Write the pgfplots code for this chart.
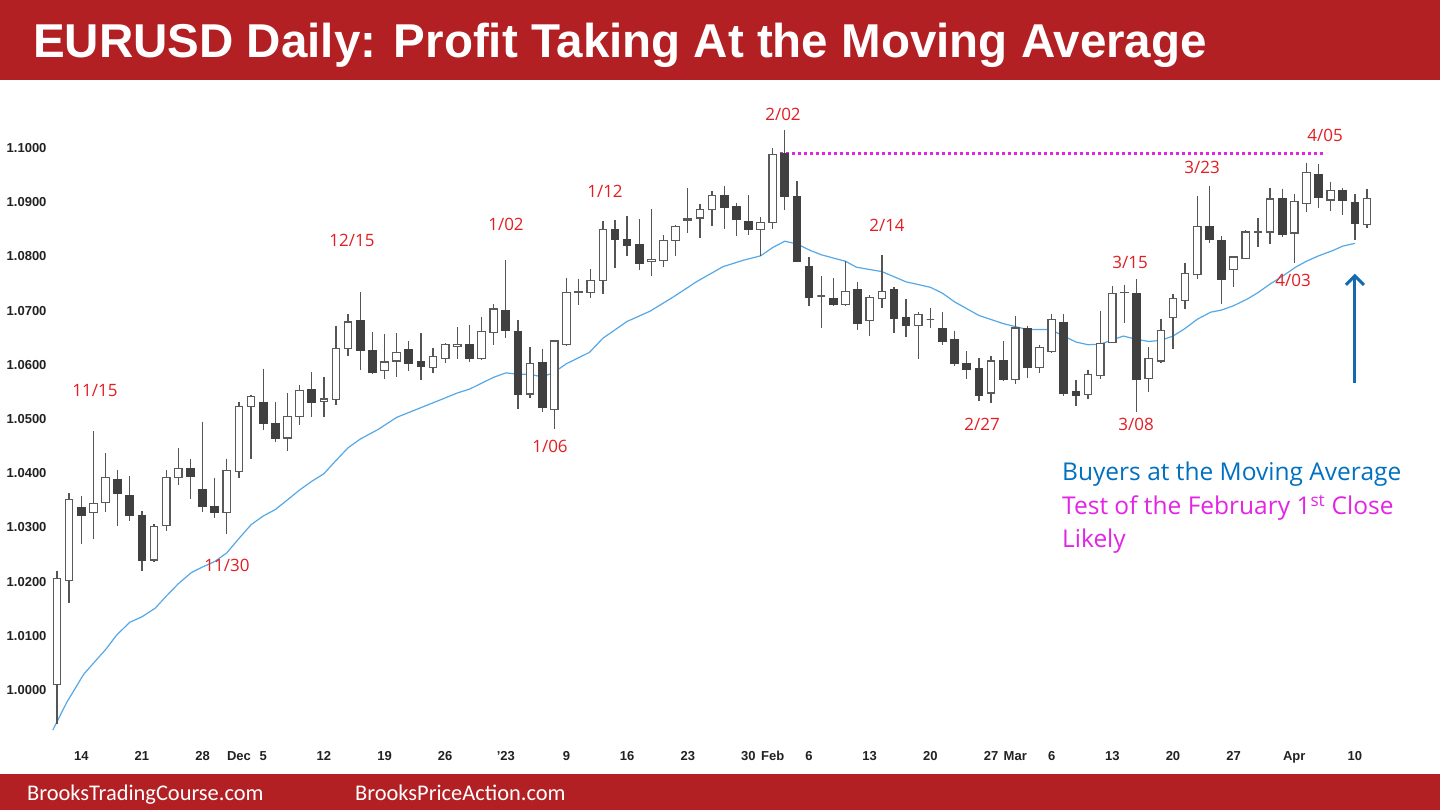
\documentclass[border=0pt]{standalone}
\usepackage{fontspec}
\usepackage{pgfplots}
\pgfplotsset{compat=1.18}
\usepackage{pgfplotstable}
\usetikzlibrary{arrows.meta}
\setmainfont{Liberation Sans}
\newfontfamily\osans{Open Sans}
\newfontfamily\carlito{Carlito}
\definecolor{bandred}{RGB}{178,32,36}
\definecolor{lblred}{RGB}{226,30,36}
\definecolor{wick}{RGB}{85,85,85}
\definecolor{bullline}{RGB}{90,90,90}
\definecolor{bearfill}{RGB}{64,64,64}
\definecolor{mablue}{RGB}{86,168,230}
\definecolor{txtblue}{RGB}{0,112,192}
\definecolor{arrowblue}{RGB}{20,105,175}
\definecolor{mag}{RGB}{228,36,228}
\definecolor{tickc}{RGB}{34,34,34}

\pgfdeclareplotmark{candle}{%
  \pgfkeys{/pgf/fpu=true,/pgf/fpu/output format=fixed}%
  \pgfmathsetmacro\cHH{(\vH-\vC)*5420}%
  \pgfmathsetmacro\cLL{(\vL-\vC)*5420}%
  \pgfmathsetmacro\cOO{(\vO-\vC)*5420}%
  \pgfkeys{/pgf/fpu=false}%
  \pgfsetlinewidth{1.3bp}%
  \pgfsetstrokecolor{wick}%
  \pgfpathmoveto{\pgfqpoint{0bp}{\cHH bp}}%
  \pgfpathlineto{\pgfqpoint{0bp}{\cLL bp}}%
  \pgfusepath{stroke}%
  \ifdim\cOO pt>0pt
    \pgfsetfillcolor{bearfill}\pgfsetstrokecolor{bearfill}%
  \else
    \pgfsetfillcolor{white}\pgfsetstrokecolor{bullline}%
  \fi
  \pgfsetlinewidth{1.2bp}%
  \pgfpathrectangle{\pgfqpoint{-3.75bp}{0bp}}{\pgfqpoint{7.5bp}{\cOO bp}}%
  \pgfusepath{fill,stroke}%
}

\pgfplotstableread{
i O H L C
0 1.0010 1.0220 0.9938 1.0205
1 1.0202 1.0363 1.0160 1.0352
2 1.0336 1.0357 1.0269 1.0322
3 1.0327 1.0478 1.0278 1.0344
4 1.0346 1.0437 1.0329 1.0392
5 1.0389 1.0406 1.0303 1.0362
6 1.0359 1.0394 1.0312 1.0322
7 1.0322 1.0330 1.0220 1.0239
8 1.0240 1.0306 1.0236 1.0301
9 1.0303 1.0405 1.0294 1.0392
10 1.0392 1.0446 1.0379 1.0409
11 1.0409 1.0427 1.0352 1.0395
12 1.0370 1.0495 1.0328 1.0338
13 1.0338 1.0392 1.0318 1.0327
14 1.0327 1.0427 1.0288 1.0405
15 1.0403 1.0531 1.0392 1.0523
16 1.0523 1.0544 1.0426 1.0541
17 1.0531 1.0593 1.0480 1.0491
18 1.0491 1.0531 1.0457 1.0465
19 1.0465 1.0548 1.0441 1.0504
20 1.0504 1.0563 1.0488 1.0553
21 1.0555 1.0586 1.0504 1.0531
22 1.0533 1.0578 1.0504 1.0537
23 1.0536 1.0672 1.0526 1.0630
24 1.0630 1.0694 1.0617 1.0679
25 1.0682 1.0734 1.0591 1.0626
26 1.0626 1.0660 1.0583 1.0586
27 1.0589 1.0656 1.0573 1.0605
28 1.0607 1.0658 1.0577 1.0622
29 1.0628 1.0643 1.0589 1.0602
30 1.0605 1.0658 1.0572 1.0597
31 1.0595 1.0631 1.0584 1.0615
32 1.0611 1.0640 1.0603 1.0637
33 1.0634 1.0669 1.0610 1.0637
34 1.0637 1.0673 1.0605 1.0611
35 1.0611 1.0689 1.0608 1.0661
36 1.0660 1.0713 1.0637 1.0703
37 1.0700 1.0793 1.0649 1.0664
38 1.0661 1.0682 1.0518 1.0546
39 1.0546 1.0633 1.0538 1.0602
40 1.0604 1.0630 1.0513 1.0521
41 1.0518 1.0646 1.0482 1.0644
42 1.0638 1.0761 1.0635 1.0733
43 1.0733 1.0759 1.0710 1.0735
44 1.0733 1.0777 1.0723 1.0755
45 1.0755 1.0866 1.0730 1.0850
46 1.0850 1.0867 1.0778 1.0831
47 1.0831 1.0874 1.0801 1.0820
48 1.0822 1.0869 1.0774 1.0787
49 1.0790 1.0887 1.0764 1.0794
50 1.0793 1.0839 1.0780 1.0830
51 1.0829 1.0858 1.0801 1.0855
52 1.0867 1.0926 1.0844 1.0870
53 1.0871 1.0897 1.0833 1.0887
54 1.0887 1.0921 1.0856 1.0913
55 1.0913 1.0929 1.0850 1.0891
56 1.0891 1.0899 1.0838 1.0868
57 1.0865 1.0913 1.0839 1.0850
58 1.0850 1.0873 1.0801 1.0862
59 1.0862 1.1000 1.0851 1.0988
60 1.0989 1.1033 1.0885 1.0910
61 1.0910 1.0940 1.0791 1.0791
62 1.0781 1.0799 1.0708 1.0725
63 1.0727 1.0764 1.0668 1.0727
64 1.0723 1.0760 1.0708 1.0712
65 1.0711 1.0791 1.0708 1.0735
66 1.0738 1.0752 1.0665 1.0676
67 1.0681 1.0728 1.0653 1.0724
68 1.0722 1.0803 1.0705 1.0735
69 1.0738 1.0743 1.0658 1.0686
70 1.0687 1.0721 1.0652 1.0672
71 1.0672 1.0697 1.0611 1.0693
72 1.0684 1.0704 1.0668 1.0684
73 1.0667 1.0697 1.0636 1.0644
74 1.0647 1.0663 1.0597 1.0603
75 1.0602 1.0625 1.0573 1.0592
76 1.0593 1.0613 1.0533 1.0543
77 1.0548 1.0617 1.0529 1.0607
78 1.0608 1.0644 1.0570 1.0573
79 1.0573 1.0690 1.0565 1.0668
80 1.0667 1.0672 1.0575 1.0596
81 1.0595 1.0637 1.0585 1.0632
82 1.0625 1.0693 1.0621 1.0683
83 1.0678 1.0693 1.0543 1.0547
84 1.0550 1.0572 1.0524 1.0543
85 1.0545 1.0590 1.0537 1.0582
86 1.0580 1.0700 1.0574 1.0639
87 1.0641 1.0745 1.0640 1.0731
88 1.0733 1.0748 1.0678 1.0734
89 1.0732 1.0758 1.0513 1.0573
90 1.0575 1.0633 1.0550 1.0612
91 1.0607 1.0684 1.0604 1.0663
92 1.0687 1.0731 1.0629 1.0723
93 1.0719 1.0788 1.0703 1.0768
94 1.0767 1.0912 1.0758 1.0855
95 1.0855 1.0929 1.0824 1.0831
96 1.0830 1.0838 1.0712 1.0757
97 1.0776 1.0801 1.0744 1.0799
98 1.0796 1.0848 1.0795 1.0845
99 1.0844 1.0870 1.0817 1.0845
100 1.0845 1.0927 1.0823 1.0906
101 1.0906 1.0925 1.0836 1.0841
102 1.0843 1.0915 1.0787 1.0901
103 1.0897 1.0973 1.0882 1.0955
104 1.0950 1.0970 1.0889 1.0908
105 1.0904 1.0938 1.0884 1.0921
106 1.0921 1.0927 1.0876 1.0904
107 1.0900 1.0916 1.0831 1.0860
108 1.0859 1.0925 1.0852 1.0907
}\ohlc

\pgfplotstableread{
i ma
-0.35 0.9926
0.8 0.9977
2.2 1.0029
4.1 1.0077
4.9 1.0101
6 1.0125
7 1.0135
8.1 1.0151
9 1.0173
10 1.0196
11.1 1.0217
12.1 1.0228
13 1.0237
14 1.0253
14.9 1.0277
16 1.0305
17 1.0321
18 1.0333
18.9 1.0349
20 1.0369
21 1.0385
22 1.0399
22.9 1.0421
24 1.0447
25 1.0463
26.5 1.0481
28 1.0503
29.9 1.0520
31.8 1.0537
33 1.0548
34 1.0555
36 1.0577
37 1.0585
37.9 1.0583
39 1.0582
40 1.0578
40.9 1.0585
42 1.0602
43.9 1.0623
45 1.0649
47 1.0680
48.9 1.0699
50.8 1.0725
52.7 1.0753
54.9 1.0781
56.6 1.0793
58 1.0801
59.05 1.0817
60 1.0828
61 1.0823
62.1 1.0811
63 1.0803
64 1.0797
65 1.0791
65.9 1.0780
68 1.0772
70 1.0753
72 1.0743
73 1.0732
74 1.0716
76 1.0691
78 1.0676
80 1.0665
81.9 1.0665
83 1.0653
84 1.0642
85 1.0637
86 1.0638
87.9 1.0653
89 1.0647
90 1.0643
91 1.0645
92 1.0653
93 1.0667
94 1.0684
95.1 1.0697
96 1.0701
97 1.0709
98.1 1.0721
99 1.0733
100 1.0749
101 1.0763
102.1 1.0780
103 1.0791
104 1.0801
105.2 1.0811
106 1.0819
107 1.0824
}\matab

\begin{document}
\begin{tikzpicture}
\begin{scope}[x=1bp,y=1bp]
\fill[white] (0,0) rectangle (1440,810);
\fill[bandred] (0,730) rectangle (1440,810);
\fill[bandred] (0,0) rectangle (1440,36);
\node[anchor=base west, inner sep=0, text=white, font=\fontsize{47.5bp}{50bp}\selectfont\bfseries] at (33,752) {EURUSD Daily: Profit Taking At the Moving Average};
\node[anchor=base west, inner sep=0, text=white, font=\carlito\fontsize{22.4bp}{24bp}\selectfont] at (27,10) {BrooksTradingCourse.com};
\node[anchor=base west, inner sep=0, text=white, font=\carlito\fontsize{22.4bp}{24bp}\selectfont] at (355,10) {BrooksPriceAction.com};
\end{scope}

\begin{axis}[
  at={(50bp,75bp)}, anchor=south west,
  width=1330bp, height=635bp, scale only axis,
  xmin=-0.5771, xmax=109.068,
  ymin=0.991697, ymax=1.108856,
  axis line style={draw=none},
  major tick length=0pt, tick style={draw=none},
  xtick={2,7,12,15,17,22,27,32,37,42,47,52,57,59,62,67,72,77,79,82,87,92,97,102,107},
  xticklabels={14,21,28,Dec,5,12,19,26,'23,9,16,23,30,Feb,6,13,20,27,Mar,6,13,20,27,Apr,10},
  ytick={1.00,1.01,1.02,1.03,1.04,1.05,1.06,1.07,1.08,1.09,1.10},
  yticklabels={1.0000,1.0100,1.0200,1.0300,1.0400,1.0500,1.0600,1.0700,1.0800,1.0900,1.1000},
  ticklabel style={font=\fontsize{13bp}{15bp}\selectfont\bfseries, text=tickc},
  xticklabel style={anchor=north, yshift=-13bp},
  yticklabel style={anchor=east},
  clip=false,
]
\addplot[mablue, line width=1.2bp, mark=none] table[x=i, y=ma] {\matab};
\addplot[only marks, mark=candle,
  visualization depends on={\thisrow{O} \as \vO},
  visualization depends on={\thisrow{H} \as \vH},
  visualization depends on={\thisrow{L} \as \vL},
  visualization depends on={\thisrow{C} \as \vC},
] table[x=i, y=C] {\ohlc};
\addplot[mag, line width=3bp, dash pattern=on 3bp off 3bp, mark=none] coordinates {(59.6,1.0989) (104.4,1.0989)};
\addplot[arrowblue, line width=3bp, mark=none, -{Straight Barb[length=9bp,width=18bp]}] coordinates {(107,1.0566) (107,1.0768)};
\end{axis}

\begin{scope}[x=1bp,y=1bp]
\begin{scope}[every node/.style={anchor=base, inner sep=0, text=lblred, font=\osans\fontsize{17bp}{19bp}\selectfont}]
\node at (95,413) {11/15};
\node at (227,238) {11/30};
\node at (352,563) {12/15};
\node at (506,579) {1/02};
\node at (550,357) {1/06};
\node at (605,612) {1/12};
\node at (783,689) {2/02};
\node at (887,578) {2/14};
\node at (982,379) {2/27};
\node at (1130,541) {3/15};
\node at (1136,379) {3/08};
\node at (1202,636) {3/23};
\node at (1325,668) {4/05};
\node at (1293,523) {4/03};
\end{scope}
\begin{scope}[every node/.style={anchor=base west, inner sep=0, font=\osans\fontsize{24.5bp}{27bp}\selectfont}]
\node[text=txtblue] at (1062,329) {Buyers at the Moving Average};
\node[text=mag] at (1062,295) {Test of the February 1\textsuperscript{st} Close};
\node[text=mag] at (1062,262) {Likely};
\end{scope}
\end{scope}
\end{tikzpicture}
\end{document}
